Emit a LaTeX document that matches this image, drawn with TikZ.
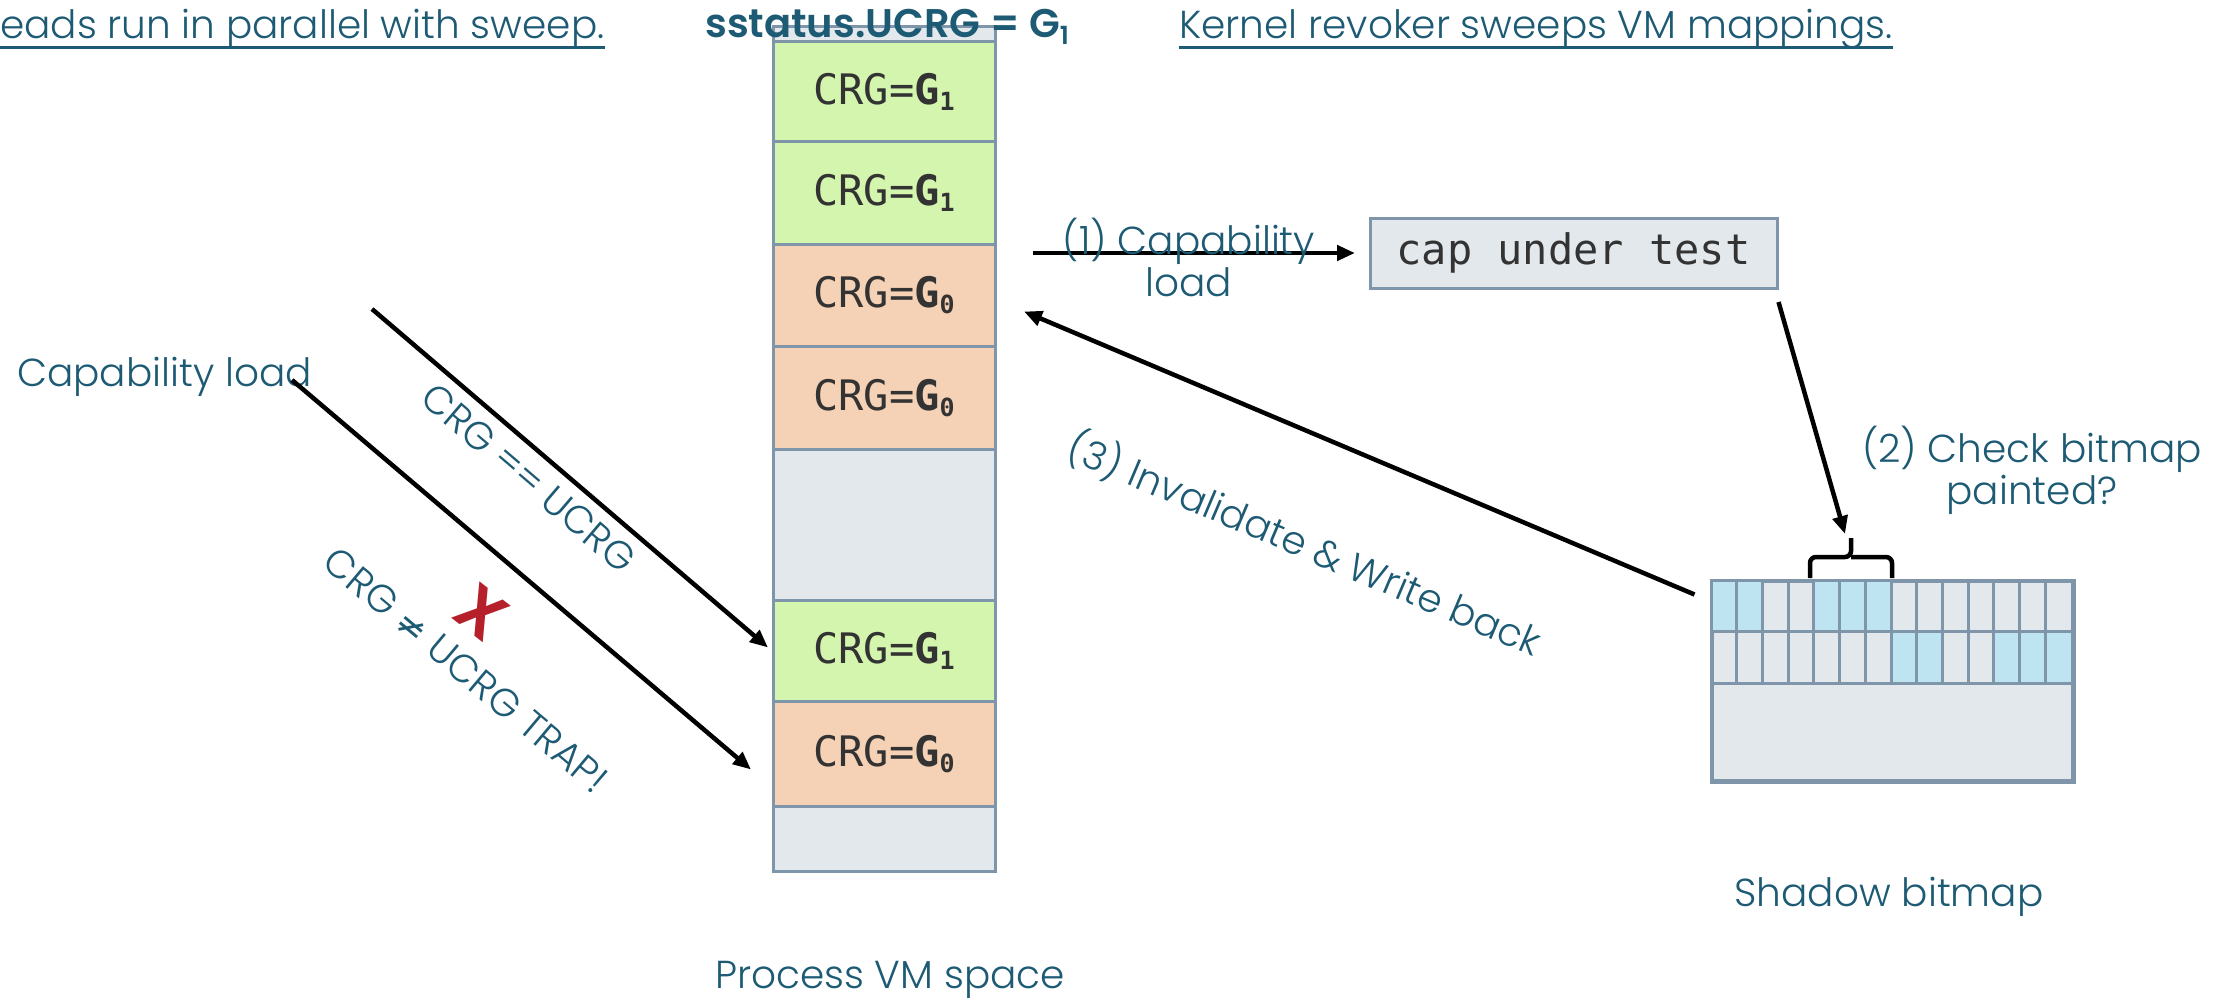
\documentclass[tikz,border=0pt]{standalone}
\usepackage{fontspec}
\setmainfont{Poppins}[UprightFont={* Light}, BoldFont={* SemiBold}]
\newfontfamily\codefont{DejaVu Sans Mono}
\newfontfamily\symfont{DejaVu Sans}
\usetikzlibrary{arrows.meta, positioning, calc}
\definecolor{tealtxt}{HTML}{1D5A74}
\definecolor{cellline}{HTML}{7F95AA}
\definecolor{lightgreen}{HTML}{D4F5AE}
\definecolor{lightorange}{HTML}{F5D1B5}
\definecolor{lightgray}{HTML}{E3E8EC}
\definecolor{lightblue}{HTML}{BEE4F2}
\definecolor{darkred}{HTML}{B5202A}
\definecolor{codegray}{HTML}{333333}

% bold G with its colour index
\newcommand{\gsub}[1]{\textbf{G}\raisebox{-6pt}{\fontsize{25}{25}\selectfont\bfseries #1}}

\tikzset{
  cell/.style={draw=cellline, line width=3pt, minimum width=222pt, anchor=north, inner sep=0pt,
    text=codegray, font=\codefont\fontsize{42}{48}\selectfont},
  note/.style={text=tealtxt, font=\fontsize{39}{42}\selectfont, inner sep=0pt},
  arr/.style={-{Triangle[length=18pt, width=15pt]}, line width=4.5pt},
}

\begin{document}
\begin{tikzpicture}[x=1pt, y=-1pt]
  \path[use as bounding box, fill=white] (0,0) rectangle (2225,1005);

  % process VM space
  \node[cell, fill=lightgray, minimum height=15pt] (c0) at (884,25) {};
  \node[cell, fill=lightgreen, minimum height=100pt] (c1) at (884,40) {CRG=\gsub{1}};
  \node[cell, fill=lightgreen, minimum height=103pt] (c2) at (884,140) {CRG=\gsub{1}};
  \node[cell, fill=lightorange, minimum height=102pt] (c3) at (884,243) {CRG=\gsub{0}};
  \node[cell, fill=lightorange, minimum height=103pt] (c4) at (884,345) {CRG=\gsub{0}};
  \node[cell, fill=lightgray, minimum height=151pt] (c5) at (884,448) {};
  \node[cell, fill=lightgreen, minimum height=101pt] (c6) at (884,599) {CRG=\gsub{1}};
  \node[cell, fill=lightorange, minimum height=105pt] (c7) at (884,700) {CRG=\gsub{0}};
  \node[cell, fill=lightgray, minimum height=65pt] (c8) at (884,805) {};
  \node[note] (vmlbl) at (890,980) {Process VM space};

  % headers
  \node[note, anchor=base west] (hdrl) at (0,38) {eads run in parallel with sweep.};
  \node[note, anchor=base west] (hdrr) at (1179,38) {Kernel revoker sweeps VM mappings.};
  \draw[tealtxt, line width=3pt] ([yshift=-9pt]hdrl.base west) -- ([yshift=-9pt]hdrl.base east);
  \draw[tealtxt, line width=3pt] ([yshift=-9pt]hdrr.base west) -- ([yshift=-9pt]hdrr.base east);
  \node[note, anchor=base west, font=\fontsize{40}{44}\selectfont\bfseries] (ucrg) at (705,37)
    {sstatus.UCRG = G\raisebox{-7pt}{\fontsize{25}{25}\selectfont 1}};

  % revoker side
  \node[cell, fill=lightgray, minimum width=407pt, minimum height=70pt, anchor=center] (capbox) at (1573.5,253) {cap under test};
  \node[draw=cellline, line width=3pt, fill=lightgray, minimum width=360pt, minimum height=199pt,
    anchor=north west, inner sep=0pt] (bmp) at (1711,580) {};
  \foreach \i in {1,2,5,6,7}
    \fill[lightblue] ({1711+(\i-1)*25.714},580) rectangle +(25.714,51.5);
  \foreach \i in {8,9,12,13,14}
    \fill[lightblue] ({1711+(\i-1)*25.714},631.5) rectangle +(25.714,51.5);
  \foreach \i in {1,...,13}
    \draw[cellline, line width=3pt] ({1711+\i*25.714},580) -- ++(0,103);
  \draw[cellline, line width=3pt] (1711,631.5) -- ++(360,0) (1711,683) -- ++(360,0);
  \draw[cellline, line width=3pt] (bmp.north west) rectangle (bmp.south east);
  \node[note] (bmplbl) at (1889,897) {Shadow bitmap};

  % brace over the checked bits
  \draw[line width=4.5pt, rounded corners=6pt] (1810,578) |- (1851,557) -- (1851,538);
  \draw[line width=4.5pt, rounded corners=6pt] (1892,578) |- (1851,557);
  \coordinate (brtip) at (1845,534);

  \draw[arr] ([xshift=36.5pt]c3.east |- capbox.west) -- ([xshift=-13.5pt]capbox.west);
  \node[note, align=center] (ldlbl) at (1189,257) {(1) Capability\\load};
  \draw[arr] ([yshift=-12.5pt]capbox.south east) -- (brtip);
  \node[note, align=center] (chklbl) at (2032,470) {(2) Check bitmap\\painted?};
  \draw[arr] ([xshift=-16.5pt, yshift=-14.5pt]bmp.north west) -- ([xshift=27.5pt, yshift=-16pt]c3.east);
  \node[note, rotate=-23] (wblbl) at (1305,544) {(3) Invalidate \& Write back};

  % user threads
  \node[note, anchor=base west] (capld) at (17,386) {Capability load};
  \coordinate (eqfrom) at (372,309);
  \draw[arr] (eqfrom) -- ([xshift=-3.5pt, yshift=3.5pt]c6.west);
  \draw[arr] ([xshift=-20pt, yshift=6pt]capld.base east) -- ([xshift=-20.5pt, yshift=-15.5pt]c7.west);
  \node[note, rotate=-40.5] (eqlbl) at (529,478) {CRG == UCRG};
  \node[note, rotate=-40] (nelbl) at (466,670) {CRG {\symfont\fontsize{36}{40}\selectfont ≠} UCRG TRAP!};
  \node[text=darkred, font=\fontsize{66}{66}\selectfont\bfseries, rotate=-38, inner sep=0pt] (cross) at (482,612) {X};
\end{tikzpicture}
\end{document}
